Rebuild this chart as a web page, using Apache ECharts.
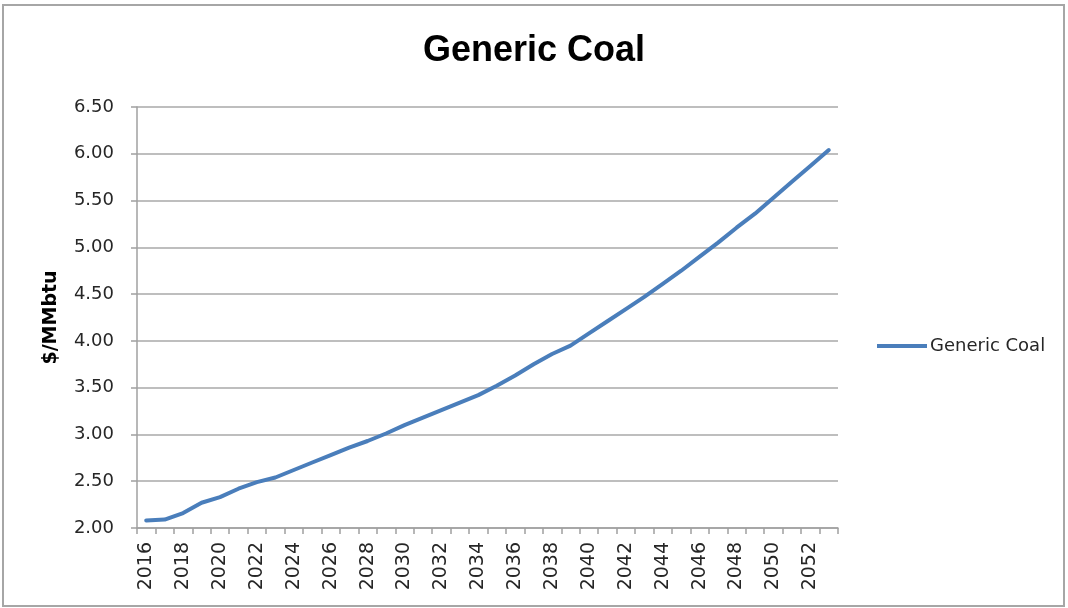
<!DOCTYPE html>
<html>
<head>
<meta charset="utf-8">
<script src="https://cdn.jsdelivr.net/npm/echarts@6/dist/echarts.min.js"></script>
<style>html,body{margin:0;padding:0;background:#fff;}#c{width:1068px;height:608px;}</style>
</head>
<body>
<div id="c"></div>
<script>
const years = ['2016','2017','2018','2019','2020','2021','2022','2023','2024','2025','2026','2027','2028','2029','2030','2031','2032','2033','2034','2035','2036','2037','2038','2039','2040','2041','2042','2043','2044','2045','2046','2047','2048','2049','2050','2051','2052','2053'];
const coal = [2.08,2.09,2.16,2.27,2.33,2.42,2.49,2.54,2.62,2.70,2.78,2.86,2.93,3.01,3.10,3.18,3.26,3.34,3.42,3.52,3.63,3.75,3.86,3.95,4.08,4.21,4.34,4.47,4.61,4.75,4.90,5.05,5.21,5.36,5.53,5.70,5.87,6.04];
const seriesName = 'Generic Coal';
const titleText = 'Generic Coal';
const yAxisName = '$/MMbtu';

const chart = echarts.init(document.getElementById('c'), null, {renderer:'canvas'});
chart.setOption({
  animation: false,
  backgroundColor: '#ffffff',
  title: {
    text: titleText,
    left: 'center',
    top: 28,
    textStyle: {fontFamily: 'Liberation Sans', fontWeight: 'bold', fontSize: 36, color: '#000'}
  },
  legend: {
    orient: 'vertical',
    left: 872,
    top: 332,
    icon: 'rect',
    itemWidth: 50,
    itemHeight: 4,
    itemGap: 5,
    textStyle: {fontFamily: 'DejaVu Sans', fontSize: 18, color: '#262626', padding: [0,0,0,-2]},
    data: [seriesName]
  },
  graphic: [{
    type: 'rect',
    shape: {x: 3, y: 5, width: 1061, height: 601},
    style: {fill: 'none', stroke: '#a6a6a6', lineWidth: 2},
    silent: true,
    z: -1
  }],
  grid: {left: 137, right: 230, top: 107, bottom: 80, containLabel: false},
  xAxis: {
    type: 'category',
    data: years,
    boundaryGap: true,
    axisLine: {lineStyle: {color: '#a0a0a0', width: 1.5}},
    axisTick: {show: true, interval: 0, length: 6, lineStyle: {color: '#a0a0a0', width: 1.5}},
    axisLabel: {interval: 1, rotate: 90, margin: 14, fontFamily: 'DejaVu Sans', fontSize: 19, color: '#262626'},
    splitLine: {show: false}
  },
  yAxis: {
    type: 'value',
    min: 2,
    max: 6.5,
    interval: 0.5,
    name: yAxisName,
    nameLocation: 'middle',
    nameRotate: 90,
    nameGap: 76,
    nameTextStyle: {fontFamily: 'DejaVu Sans', fontWeight: 'bold', fontSize: 19, color: '#000'},
    axisLine: {show: true, lineStyle: {color: '#a0a0a0', width: 1.5}},
    axisTick: {show: true, length: 6, lineStyle: {color: '#a0a0a0', width: 1.5}},
    axisLabel: {margin: 23, fontFamily: 'DejaVu Sans', fontSize: 18, color: '#262626', formatter: v => v.toFixed(2)},
    splitLine: {show: true, lineStyle: {color: '#a8a8a8', width: 1.5}}
  },
  series: [{
    name: seriesName,
    type: 'line',
    data: coal,
    symbol: 'none',
    smooth: false,
    lineStyle: {color: '#4a7ebb', width: 4, cap: 'round', join: 'round'},
    itemStyle: {color: '#4a7ebb'}
  }]
});
</script>
</body>
</html>
